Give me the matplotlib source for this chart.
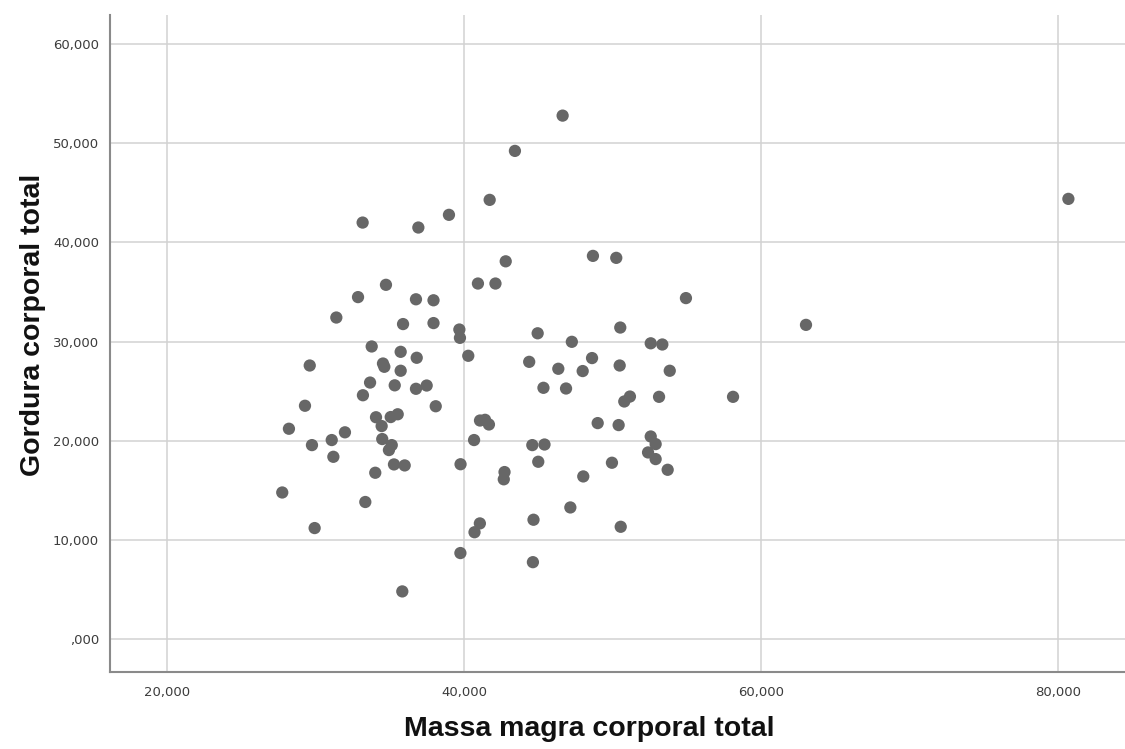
import matplotlib
matplotlib.use("Agg")
import matplotlib.pyplot as plt
from matplotlib.ticker import FixedLocator, FixedFormatter

# massa magra (x) e gordura (y), uma entrada por participante
massa_magra = [
    46640, 43430, 41730, 38990, 33180, 36930, 80680, 48680, 50250, 42810,
    40940, 42120, 34750, 54940, 32870, 36770, 37950, 31410, 63020, 35900,
    37950, 39690, 39730, 44960, 50520, 47260, 52570, 53350, 33790, 35740,
    36820, 40290, 29620, 34550, 34640, 35740, 44390, 46350, 47990, 48620,
    50480, 53850, 45350, 46870, 33680, 35340, 36770, 37490, 33200, 29300,
    38100, 51170, 50790, 53130, 58110, 34080, 35070, 35540, 34460, 28220,
    31990, 41080, 41420, 41680, 49000, 50410, 31100, 29770, 34500, 35140,
    34950, 40680, 44600, 45420, 52570, 52900, 52390, 52900, 31210, 35290,
    36010, 39770, 45000, 49960, 53710, 34030, 42730, 42680, 48030, 27770,
    33360, 47160, 44680, 50550, 29950, 41070, 40710, 39760, 44640, 35850,
]
gordura = [
    52800, 49240, 44300, 42790, 42010, 41510, 44400, 38650, 38450, 38100,
    35860, 35860, 35730, 34390, 34490, 34270, 34170, 32430, 31690, 31770,
    31870, 31220, 30380, 30840, 31420, 29980, 29830, 29710, 29510, 28970,
    28370, 28570, 27590, 27790, 27460, 27060, 27960, 27260, 27030, 28340,
    27590, 27060, 25340, 25270, 25870, 25590, 25240, 25570, 24590, 23530,
    23480, 24460, 23960, 24430, 24430, 22370, 22390, 22670, 21480, 21210,
    20850, 22040, 22110, 21640, 21780, 21580, 20070, 19560, 20170, 19560,
    19060, 20070, 19560, 19620, 20430, 19660, 18820, 18150, 18380, 17610,
    17510, 17630, 17880, 17780, 17070, 16770, 16840, 16110, 16400, 14780,
    13820, 13270, 12030, 11320, 11190, 11660, 10770, 8670, 7750, 4800,
]

x_ticks = [20000, 40000, 60000, 80000]
x_tick_labels = ["20,000", "40,000", "60,000", "80,000"]
y_ticks = [0, 10000, 20000, 30000, 40000, 50000, 60000]
y_tick_labels = [",000", "10,000", "20,000", "30,000", "40,000", "50,000", "60,000"]

fig = plt.figure(figsize=(11.25, 7.49), dpi=100)
ax = fig.add_axes([110 / 1125, 1 - 672 / 749, 1015 / 1125, 657 / 749])

ax.scatter(massa_magra, gordura, s=78, color="#676767", edgecolors="none", zorder=3)

ax.set_xlim(16177, 84490)
ax.set_ylim(-3330, 62950)

ax.xaxis.set_major_locator(FixedLocator(x_ticks))
ax.xaxis.set_major_formatter(FixedFormatter(x_tick_labels))
ax.yaxis.set_major_locator(FixedLocator(y_ticks))
ax.yaxis.set_major_formatter(FixedFormatter(y_tick_labels))

ax.grid(True, color="#d2d2d2", linewidth=1.1, zorder=0)
ax.set_axisbelow(True)

for side in ["top", "right"]:
    ax.spines[side].set_visible(False)
for side in ["left", "bottom"]:
    ax.spines[side].set_color("#8a8a8a")
    ax.spines[side].set_linewidth(1.5)

ax.tick_params(axis="both", length=0, labelsize=9.5, labelcolor="#3c3c3c")
ax.tick_params(axis="x", pad=10)
ax.tick_params(axis="y", pad=8)

ax.set_xlabel("Massa magra corporal total", family="Liberation Sans",
              fontweight="bold", fontsize=20.5, color="#111111")
ax.xaxis.set_label_coords((589 - 110) / 1015, (672 - 716) / 657)
ax.xaxis.label.set_va("top")

ax.set_ylabel("Gordura corporal total", family="Liberation Sans",
              fontweight="bold", fontsize=20.5, color="#111111")
ax.yaxis.set_label_coords((46 - 110) / 1015, (672 - 325) / 657)

fig.savefig("out.png", dpi=100)
